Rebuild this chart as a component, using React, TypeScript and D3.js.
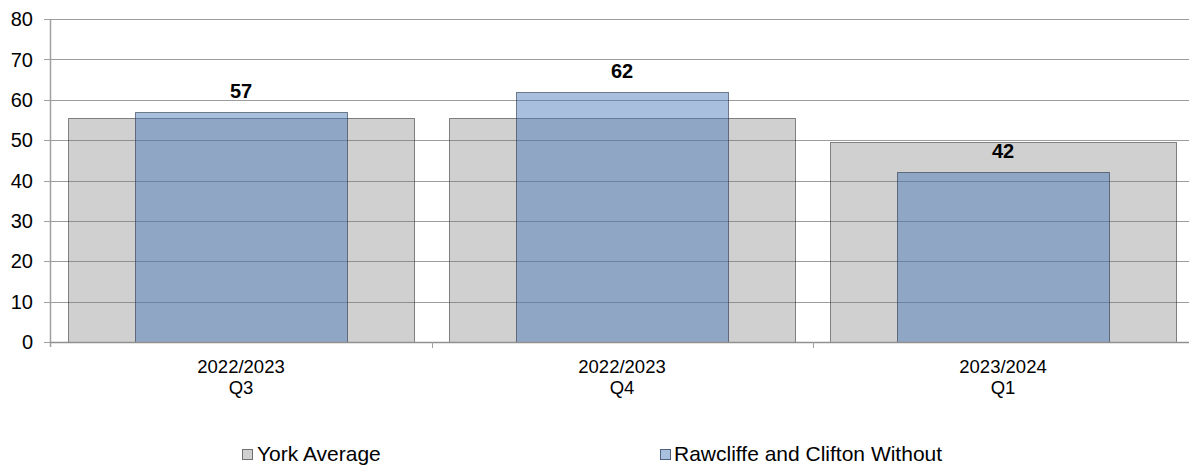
import React from "react";
import * as d3 from "d3";

const categories = ["2022/2023|Q3", "2022/2023|Q4", "2023/2024|Q1"];
const yorkAverage = [55.5, 55.5, 49.5];
const rawcliffe = [57, 62, 42];
const yTicks = [0, 10, 20, 30, 40, 50, 60, 70, 80];
const seriesNames = ["York Average", "Rawcliffe and Clifton Without"];

const W = 1189;
const H = 468;
const FONT = "'Liberation Sans', Arial, sans-serif";

export default function App() {
  const x = d3.scaleBand<string>().domain(categories).range([50.5, 1193.5]).padding(0);
  const y = d3.scaleLinear().domain([0, 80]).range([342, 19]);
  const bw = x.bandwidth();
  const greyW = bw * 0.908;
  const blueW = bw * 0.556;
  const left = 50.5;
  const right = W;

  return (
    <svg width={W} height={H} style={{ position: "absolute", left: 0, top: 0, background: "#fff" }}>
      {/* gridlines */}
      {yTicks.map((t) => (
        <line key={"g" + t} x1={left} x2={right} y1={Math.round(y(t)) + 0.5} y2={Math.round(y(t)) + 0.5} stroke="#9c9c9c" strokeWidth={1} />
      ))}
      {/* grey bars */}
      {categories.map((c, i) => {
        const cx = (x(c) as number) + bw / 2;
        return (
          <rect key={"gb" + i} x={Math.round(cx - greyW / 2) + 0.5} y={Math.round(y(yorkAverage[i])) + 0.5}
            width={Math.round(greyW)} height={Math.round(y(0) - y(yorkAverage[i]))}
            fill="rgb(120,120,120)" fillOpacity={0.35} stroke="rgb(40,40,40)" strokeOpacity={0.55} strokeWidth={1} />
        );
      })}
      {/* blue bars */}
      {categories.map((c, i) => {
        const cx = (x(c) as number) + bw / 2;
        return (
          <rect key={"bb" + i} x={Math.round(cx - blueW / 2) + 0.5} y={Math.round(y(rawcliffe[i])) + 0.5}
            width={Math.round(blueW)} height={Math.round(y(0) - y(rawcliffe[i]))}
            fill="rgb(70,120,185)" fillOpacity={0.47} stroke="rgb(40,50,70)" strokeOpacity={0.6} strokeWidth={1} />
        );
      })}
      {/* value labels */}
      {categories.map((c, i) => {
        const cx = (x(c) as number) + bw / 2;
        return (
          <text key={"vl" + i} x={cx} y={y(rawcliffe[i]) - 14} textAnchor="middle" fontFamily={FONT} fontWeight="bold" fontSize={20} fill="#000">
            {rawcliffe[i]}
          </text>
        );
      })}
      {/* y axis */}
      <line x1={left} x2={left} y1={y(80)} y2={y(0) + 5} stroke="#a0a0a0" strokeWidth={1.5} />
      {yTicks.map((t) => (
        <g key={"yt" + t}>
          <line x1={44} x2={left} y1={Math.round(y(t)) + 0.5} y2={Math.round(y(t)) + 0.5} stroke="#a0a0a0" strokeWidth={1} />
          <text x={33} y={y(t)} dy="0.36em" textAnchor="end" fontFamily={FONT} fontSize={20} fill="#000">{t}</text>
        </g>
      ))}
      {/* x axis */}
      <line x1={left} x2={right} y1={Math.round(y(0)) + 0.5} y2={Math.round(y(0)) + 0.5} stroke="#909090" strokeWidth={1.5} />
      {categories.slice(1).map((c, i) => (
        <line key={"xt" + i} x1={Math.round(x(c) as number) + 0.5} x2={Math.round(x(c) as number) + 0.5} y1={y(0)} y2={y(0) + 6} stroke="#a0a0a0" strokeWidth={1} />
      ))}
      {categories.map((c, i) => {
        const cx = (x(c) as number) + bw / 2;
        const [l1, l2] = c.split("|");
        return (
          <text key={"xl" + i} textAnchor="middle" fontFamily={FONT} fontSize={18.5} fill="#000">
            <tspan x={cx} y={373}>{l1}</tspan>
            <tspan x={cx} y={394}>{l2}</tspan>
          </text>
        );
      })}
      {/* legend */}
      <rect x={242.5} y={449.5} width={10} height={10} fill="rgb(208,208,208)" stroke="#707070" strokeWidth={1} />
      <text x={257} y={460.5} fontFamily={FONT} fontSize={21} fill="#000">{seriesNames[0]}</text>
      <rect x={660.5} y={449.5} width={10} height={10} fill="rgb(168,192,222)" stroke="#506080" strokeWidth={1} />
      <text x={674} y={460.5} fontFamily={FONT} fontSize={21} fill="#000">{seriesNames[1]}</text>
    </svg>
  );
}
